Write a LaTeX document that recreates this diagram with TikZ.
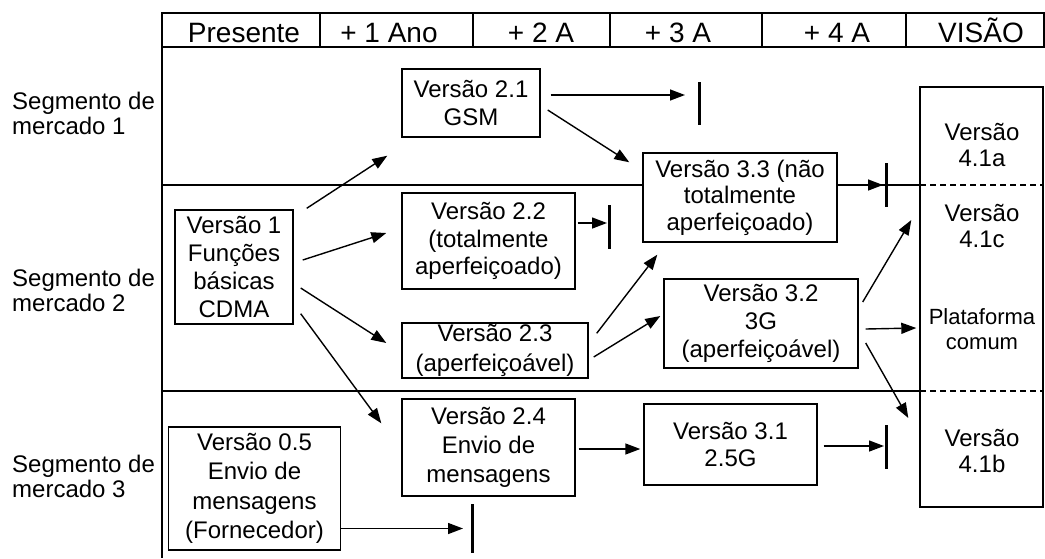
\documentclass[tikz,border=0pt]{standalone}
\usepackage{fontspec}
\setmainfont{Liberation Sans}
\usetikzlibrary{arrows.meta}
\begin{document}
\begin{tikzpicture}[x=1pt,y=-1pt,
  rule/.style={line width=1.5pt},
  vbox/.style={draw,fill=white,line width=1.4pt,align=center,inner sep=0pt,
    font=\fontsize{24}{27.5}\selectfont},
  arr/.style={line width=1.4pt,-{Triangle[length=15pt,width=11pt]}},
  stopbar/.style={line width=3pt},
  head/.style={anchor=base,font=\fontsize{28}{30}\selectfont,inner sep=0pt},
  seg/.style={anchor=west,align=left,font=\fontsize{24}{25}\selectfont,inner sep=0pt},
  vtext/.style={align=center,font=\fontsize{24}{26.5}\selectfont,inner sep=0pt},
  sepline/.style={dash pattern=on 6pt off 4pt,line width=1.3pt}
]
\useasboundingbox (0,0) rectangle (1045,558);

% time header
\draw[rule] (162,13) rectangle (1044,47);
\foreach \xx in {320,473,610,762,906} \draw[rule] (\xx,13) -- (\xx,47);
\node[head] (h0) at (244,42) {Presente};
\node[head] (h1) at (389,42) {+ 1 Ano};
\node[head] (h2) at (541,42) {+ 2 A};
\node[head] (h3) at (678,42) {+ 3 A};
\node[head] (h4) at (837,42) {+ 4 A};
\node[head] (h5) at (981,42) {VISÃO};

% market segments
\draw[rule] (162,13) -- (162,558);
\draw[rule] (162,185) -- (920,185);
\draw[rule] (162,391) -- (920,391);
\draw[sepline] (920,185) -- (1043,185);
\draw[sepline] (920,391) -- (1043,391);
\node[seg] (s1) at (12,113) {Segmento de\\mercado 1};
\node[seg] (s2) at (12,290) {Segmento de\\mercado 2};
\node[seg] (s3) at (12,476) {Segmento de\\mercado 3};

% vision column
\node[draw,line width=1.4pt,minimum width=123pt,minimum height=420pt,inner sep=0pt] (vis) at (981.5,297) {};
\node[vtext] (va) at (982,145) {Versão\\4.1a};
\node[vtext] (vc) at (982,226) {Versão\\4.1c};
\node[vtext,font=\fontsize{22}{25}\selectfont] (vp) at (982,329) {Plataforma\\comum};
\node[vtext] (vb) at (982,451) {Versão\\4.1b};

% releases
\node[vbox,minimum width=118pt,minimum height=114pt,font=\fontsize{24}{28.3}\selectfont] (v1) at (234,267) {Versão 1\\Funções\\básicas\\CDMA};
\node[vbox,minimum width=138pt,minimum height=68pt] (v21) at (471,103) {Versão 2.1\\GSM};
\node[vbox,minimum width=173pt,minimum height=96pt] (v22) at (488.5,241) {Versão 2.2\\(totalmente\\aperfeiçoado)};
\node[vbox,minimum width=186pt,minimum height=55pt,font=\fontsize{24}{30}\selectfont] (v23) at (495,350.5) {Versão 2.3\\(aperfeiçoável)};
\node[vbox,minimum width=173pt,minimum height=97pt,font=\fontsize{24}{29}\selectfont] (v24) at (488.5,447.5) {Versão 2.4\\Envio de\\mensagens};
\node[vbox,minimum width=194pt,minimum height=89pt,font=\fontsize{24}{26.5}\selectfont] (v33) at (740,197.5) {Versão 3.3 (não\\totalmente\\aperfeiçoado)};
\node[vbox,minimum width=194pt,minimum height=89pt,font=\fontsize{24}{28}\selectfont] (v32) at (761,323.5) {Versão 3.2\\3G\\(aperfeiçoável)};
\node[vbox,minimum width=173pt,minimum height=81pt] (v31) at (730.5,444.5) {Versão 3.1\\2.5G};
\node[vbox,minimum width=172pt,minimum height=123pt,font=\fontsize{24}{29.3}\selectfont] (v05) at (254.5,488.5) {Versão 0.5\\Envio de\\mensagens\\(Fornecedor)};

% end points of discontinued lines
\coordinate (t21) at (685,95);
\coordinate (t22) at (607,223);
\coordinate (t33) at (883,185);
\coordinate (t31) at (884,446);
\coordinate (t05) at (463,528.5);
\draw[stopbar] (699,82) -- (699,125);
\draw[stopbar] (609,205) -- (609,249);
\draw[stopbar] (886,163) -- (886,207);
\draw[stopbar] (886,425) -- (886,469);
\draw[stopbar] (472,504) -- (472,553);

% evolution arrows
\draw[arr] ([shift={(13,-1)}]v1.north east) -- ([shift={(-14,18)}]v21.south west);
\draw[arr] ([shift={(9,-7)}]v1.east) -- ([shift={(-15,-8)}]v22.west);
\draw[arr] ([shift={(7,21)}]v1.east) -- ([shift={(-15,-7.5)}]v23.west);
\draw[arr] ([shift={(7,-11)}]v1.south east) -- ([shift={(-20,25)}]v24.north west);

\draw[arr] ([shift={(10,-8)}]v21.east) -- (t21);
\draw[arr] ([shift={(7,7)}]v21.east) -- ([shift={(-13,10)}]v33.north west);
\draw[arr] ([shift={(1,-12.5)}]v33.east) -- (t33);
\draw[arr] ([shift={(2,-18)}]v22.east) -- (t22);

\draw[arr] ([shift={(8,11)}]v23.north east) -- ([shift={(15,12)}]v33.south west);
\draw[arr] ([shift={(5,6.5)}]v23.east) -- ([shift={(-3,-7.5)}]v32.west);

\draw[arr] ([shift={(4,-21.5)}]v32.east) -- ([shift={(-8,-77)}]vis.west);
\draw[arr] ([shift={(7,5.5)}]v32.east) -- ([shift={(-3,31)}]vis.west);
\draw[arr] ([shift={(7,19.5)}]v32.east) -- ([shift={(-11,121)}]vis.west);

\draw[arr] ([shift={(3,1.5)}]v24.east) -- ([shift={(-3,4.5)}]v31.west);
\draw[arr] ([shift={(6,1.5)}]v31.east) -- (t31);
\draw[arr] ([shift={(0,40)}]v05.east) -- (t05);
\end{tikzpicture}
\end{document}
